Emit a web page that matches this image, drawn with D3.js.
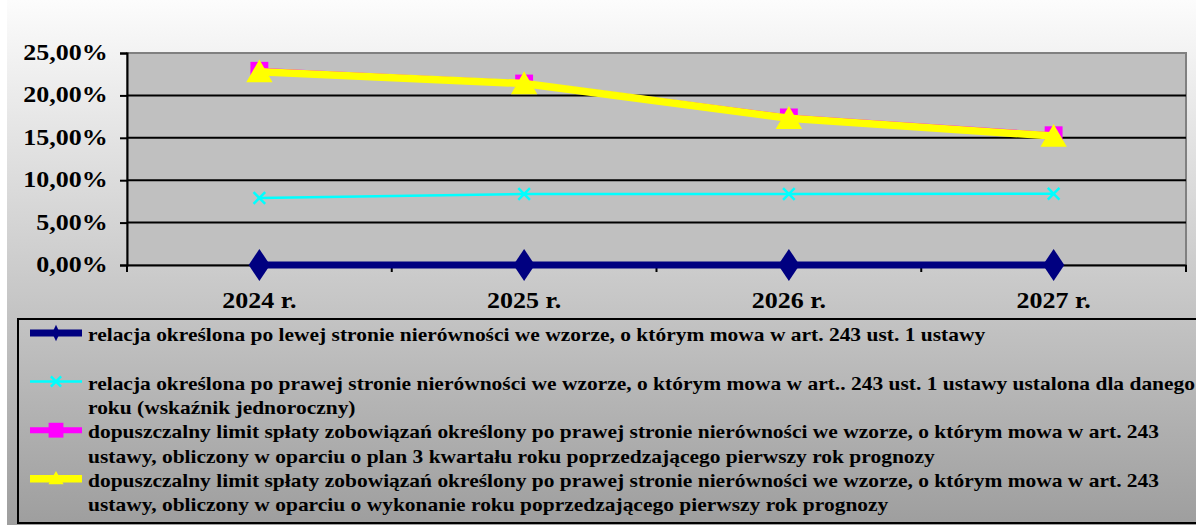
<!DOCTYPE html>
<meta charset="utf-8">
<style>
body { margin: 0; background: #fff; }
</style>
<body>
<script src="https://cdn.jsdelivr.net/npm/d3@7"></script>
<script>
// categories (years) and series values
var years = ["2024 r.", "2025 r.", "2026 r.", "2027 r."];
var leftRelation = [0, 0, 0, 0];
var rightRelation = [0.079, 0.0837, 0.0837, 0.084];
var limitPlanQ3 = [0.229, 0.214, 0.174, 0.153];
var limitExecution = [0.228, 0.214, 0.173, 0.152];
var yTicks = [0, 0.05, 0.10, 0.15, 0.20, 0.25];

var legendLabels = [
  ["relacja określona po lewej stronie nierówności we wzorze, o którym mowa w art. 243 ust. 1 ustawy", ""],
  ["relacja określona po prawej stronie nierówności we wzorze, o którym mowa w art.. 243 ust. 1 ustawy ustalona dla danego", "roku (wskaźnik jednoroczny)"],
  ["dopuszczalny limit spłaty zobowiązań określony po prawej stronie nierówności we wzorze, o którym mowa w art. 243", "ustawy, obliczony w oparciu o plan 3 kwartału roku poprzedzającego pierwszy rok prognozy"],
  ["dopuszczalny limit spłaty zobowiązań określony po prawej stronie nierówności we wzorze, o którym mowa w art. 243", "ustawy, obliczony w oparciu o wykonanie roku poprzedzającego pierwszy rok prognozy"]
];

var W = 1196, H = 525;
var plot = {left: 127, right: 1186, top: 53, bottom: 265};
var FONT = "Liberation Serif";
var stretch = 1.13; // the original text is drawn a bit wider than it is tall

var svg = d3.select("body").append("svg").attr("width", W).attr("height", H);

//background gradient of the chart area
var defs = svg.append("defs");
var grad = defs.append("linearGradient").attr("id", "bg").attr("x1", 0).attr("y1", 0).attr("x2", 0).attr("y2", 1);
grad.append("stop").attr("offset", "0%").attr("stop-color", "#fcfcfc");
grad.append("stop").attr("offset", "100%").attr("stop-color", "#9e9e9e");
svg.append("rect").attr("x", 7).attr("y", 0).attr("width", W - 7).attr("height", H).attr("fill", "url(#bg)");

var x = d3.scaleBand().domain(years).range([plot.left, plot.right]);
var y = d3.scaleLinear().domain([0, 0.25]).range([plot.bottom, plot.top]);

//plot area
svg.append("rect")
  .attr("x", plot.left).attr("y", plot.top)
  .attr("width", plot.right - plot.left).attr("height", plot.bottom - plot.top)
  .attr("fill", "#c0c0c0").attr("stroke", "#808080").attr("stroke-width", 2);

//gridlines
svg.append("g").selectAll("line")
  .data(yTicks.filter(function(d){ return d > 0 && d < 0.25; }))
  .enter().append("line")
  .attr("x1", plot.left).attr("x2", plot.right)
  .attr("y1", function(d){ return y(d); }).attr("y2", function(d){ return y(d); })
  .attr("stroke", "#000").attr("stroke-width", 2);

//y axis
var fmt = function(d){ return d3.format(".2f")(d * 100).replace(".", ",") + "%"; };
var yAxis = svg.append("g")
  .attr("transform", "translate(" + plot.left + ",0)")
  .call(d3.axisLeft(y).tickValues(yTicks).tickFormat(fmt).tickSize(7).tickPadding(10));
yAxis.select(".domain").attr("stroke", "#000").attr("stroke-width", 2);
yAxis.selectAll(".tick line").attr("stroke", "#000").attr("stroke-width", 2);
yAxis.selectAll("text").attr("font-size", 23).attr("font-family", FONT).attr("font-weight", "bold")
  .attr("fill", "#000").attr("dy", "0.28em").attr("transform", "scale(" + stretch + ",1)");

//x axis
var xAxis = svg.append("g")
  .attr("transform", "translate(0," + plot.bottom + ")")
  .call(d3.axisBottom(x).tickSize(0));
xAxis.select(".domain").attr("stroke", "#000").attr("stroke-width", 2);
xAxis.selectAll("text").attr("font-size", 23).attr("font-family", FONT).attr("font-weight", "bold")
  .attr("fill", "#000").attr("y", 43).attr("dy", 0).attr("transform", "scale(" + stretch + ",1)");
//category boundary ticks
svg.append("g").selectAll("line")
  .data(years.concat(["end"]))
  .enter().append("line")
  .attr("x1", function(d, i){ return plot.left + i * x.step(); })
  .attr("x2", function(d, i){ return plot.left + i * x.step(); })
  .attr("y1", plot.bottom).attr("y2", plot.bottom + 7)
  .attr("stroke", "#000").attr("stroke-width", 2);

var cx = function(d, i){ return x(years[i]) + x.bandwidth() / 2; };

var series = [
  {values: leftRelation, color: "#000080", width: 7, symbol: d3.symbolDiamond, size: 300, lsize: 80, kind: "fill"},
  {values: rightRelation, color: "#00ffff", width: 2.5, symbol: d3.symbolX, size: 90, lsize: 70, kind: "stroke"},
  {values: limitPlanQ3, color: "#ff00ff", width: 6, symbol: d3.symbolSquare, size: 320, lsize: 220, kind: "fill"},
  {values: limitExecution, color: "#ffff00", width: 7.5, symbol: d3.symbolTriangle, size: 300, lsize: 100, kind: "fill"}
];

var line = d3.line().x(cx).y(function(d){ return y(d); });

series.forEach(function(s){
  var g = svg.append("g");
  g.append("path").datum(s.values).attr("d", line)
    .attr("fill", "none").attr("stroke", s.color).attr("stroke-width", s.width)
    .attr("stroke-linejoin", "round");
  g.selectAll("path.m").data(s.values).enter().append("path").attr("class", "m")
    .attr("transform", function(d, i){
      var dy = s.symbol === d3.symbolTriangle ? 3 : 0;
      return "translate(" + cx(d, i) + "," + (y(d) + dy) + ")" + (s.symbol === d3.symbolDiamond ? " scale(1.15,1)" : "");
    })
    .attr("d", d3.symbol().type(s.symbol).size(s.size))
    .attr("fill", s.kind === "fill" ? s.color : "none")
    .attr("stroke", s.kind === "stroke" ? s.color : "none")
    .attr("stroke-width", 2.5);
});

//legend
var lg = svg.append("g");
lg.append("rect").attr("x", 18).attr("y", 319).attr("width", W).attr("height", 204)
  .attr("fill", "none").attr("stroke", "#000").attr("stroke-width", 2);

var lineH = 24.3, firstBase = 341;
series.forEach(function(s, i){
  var base = firstBase + i * 2 * lineH;
  var sy = base - 8;
  lg.append("line").attr("x1", 30).attr("x2", 82).attr("y1", sy).attr("y2", sy)
    .attr("stroke", s.color).attr("stroke-width", s.width);
  lg.append("path")
    .attr("transform", "translate(56," + (sy + (s.symbol === d3.symbolTriangle ? 1 : 0)) + ")" + (s.symbol === d3.symbolDiamond ? " scale(0.8,1)" : ""))
    .attr("d", d3.symbol().type(s.symbol).size(s.lsize))
    .attr("fill", s.kind === "fill" ? s.color : "none")
    .attr("stroke", s.kind === "stroke" ? s.color : "none")
    .attr("stroke-width", 2.5);
  legendLabels[i].forEach(function(t, j){
    lg.append("text")
      .attr("transform", "translate(88," + (base + j * lineH) + ") scale(" + stretch + ",1)")
      .attr("font-family", FONT).attr("font-weight", "bold").attr("fill", "#000")
      .attr("font-size", 19).text(t);
  });
});
</script>
</body>
